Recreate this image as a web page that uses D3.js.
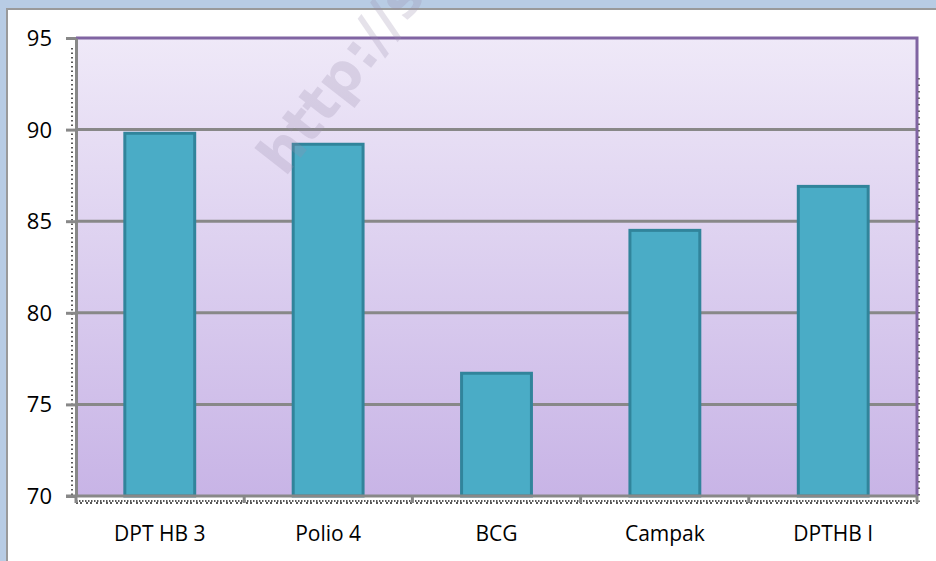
<!DOCTYPE html>
<html>
<head>
<meta charset="utf-8">
<script src="https://cdn.jsdelivr.net/npm/d3@7"></script>
<style>
  body { margin: 0; background: #b8cce4; }
  svg { display: block; }
</style>
</head>
<body>
<figure id="bar" style="margin:0"></figure>
<script>
// chart data
const categories = ["DPT HB 3", "Polio 4", "BCG", "Campak", "DPTHB I"];
const values = [89.8, 89.2, 76.7, 84.5, 86.9];
const yTicks = [70, 75, 80, 85, 90, 95];

const W = 936, H = 561;
const margin = { top: 38, right: 19, bottom: 65, left: 76 };
const width = W - margin.left - margin.right;
const height = H - margin.top - margin.bottom;

const svg = d3.select("figure#bar")
  .append("svg")
  .attr("width", W)
  .attr("height", H);

// white panel with gray edge
svg.append("rect")
  .attr("x", 7).attr("y", 9)
  .attr("width", W).attr("height", H)
  .attr("fill", "#fff")
  .attr("stroke", "#9a9a9a")
  .attr("stroke-width", 2);

const defs = svg.append("defs");
const grad = defs.append("linearGradient")
  .attr("id", "plotbg")
  .attr("x1", 0).attr("y1", 0).attr("x2", 0).attr("y2", 1);
grad.append("stop").attr("offset", "0%").attr("stop-color", "#efe9f8");
grad.append("stop").attr("offset", "100%").attr("stop-color", "#c8b4e6");

const g = svg.append("g")
  .attr("transform", "translate(" + margin.left + "," + margin.top + ")");

const x = d3.scaleBand()
  .domain(categories)
  .range([0, width])
  .paddingInner(0.585)
  .paddingOuter(0.29);

const y = d3.scaleLinear()
  .domain([70, 95])
  .range([height, 0]);

// plot area
g.append("rect")
  .attr("width", width)
  .attr("height", height)
  .attr("fill", "url(#plotbg)");

// watermark
svg.append("text")
  .attr("transform", "translate(285,178) rotate(-52)")
  .style("font-family", "'DejaVu Sans', sans-serif")
  .style("font-weight", "bold")
  .style("font-size", "56px")
  .attr("fill", "rgba(150,140,170,0.25)")
  .text("http://sl");

// gridlines
g.selectAll(".grid")
  .data(yTicks.slice(1, -1))
  .enter()
  .append("line")
  .attr("x1", 0).attr("x2", width)
  .attr("y1", d => y(d)).attr("y2", d => y(d))
  .attr("stroke", "#888")
  .attr("stroke-width", 3);

// purple top / right border
g.append("path")
  .attr("d", "M0,0H" + width + "V" + height)
  .attr("fill", "none")
  .attr("stroke", "#8064a2")
  .attr("stroke-width", 3);

// bars
g.selectAll(".bar")
  .data(values)
  .enter()
  .append("rect")
  .attr("x", (d, i) => x(categories[i]))
  .attr("y", d => y(d))
  .attr("width", x.bandwidth())
  .attr("height", d => height - y(d))
  .attr("fill", "#4aacc6")
  .attr("stroke", "#31849b")
  .attr("stroke-width", 3);

// dotted artefacts along axes
g.append("line")
  .attr("x1", -4).attr("x2", -4).attr("y1", 10).attr("y2", height)
  .attr("stroke", "#222").attr("stroke-width", 1.5)
  .attr("stroke-dasharray", "1.5,3");
[5, 7].forEach(off => {
  g.append("line")
    .attr("x1", 0).attr("x2", width + 2).attr("y1", height + off).attr("y2", height + off)
    .attr("stroke", "#222").attr("stroke-width", 1.5)
    .attr("stroke-dasharray", off === 5 ? "1.5,1.5" : "2,2,2,4");
});
g.append("line")
  .attr("x1", width + 2).attr("x2", width + 2).attr("y1", 40).attr("y2", height + 6)
  .attr("stroke", "#444").attr("stroke-width", 1.5)
  .attr("stroke-dasharray", "1.5,5");

// y axis
const yAxis = g.append("g")
  .call(d3.axisLeft(y).tickValues(yTicks).tickSize(10).tickSizeOuter(0).tickPadding(14));
yAxis.select(".domain").attr("stroke", "#888").attr("stroke-width", 3);
yAxis.selectAll(".tick line").attr("stroke", "#888").attr("stroke-width", 3);
yAxis.selectAll("text")
  .style("font-family", "'Open Sans', sans-serif")
  .style("font-size", "22px")
  .attr("dy", "0.34em")
  .attr("fill", "#000");

// x axis
const xAxisG = g.append("g").attr("transform", "translate(0," + height + ")");
xAxisG.append("line")
  .attr("x1", -10).attr("x2", width)
  .attr("stroke", "#888").attr("stroke-width", 3);
xAxisG.selectAll(".xtick")
  .data(d3.range(categories.length + 1))
  .enter()
  .append("line")
  .attr("x1", i => i * width / categories.length)
  .attr("x2", i => i * width / categories.length)
  .attr("y1", 0).attr("y2", 7)
  .attr("stroke", "#888").attr("stroke-width", 3);
xAxisG.selectAll(".xlabel")
  .data(categories)
  .enter()
  .append("text")
  .attr("x", d => x(d) + x.bandwidth() / 2)
  .attr("y", 45)
  .attr("text-anchor", "middle")
  .style("font-family", "'Open Sans', sans-serif")
  .style("font-size", "21px")
  .attr("fill", "#000")
  .text(d => d);
</script>
</body>
</html>
